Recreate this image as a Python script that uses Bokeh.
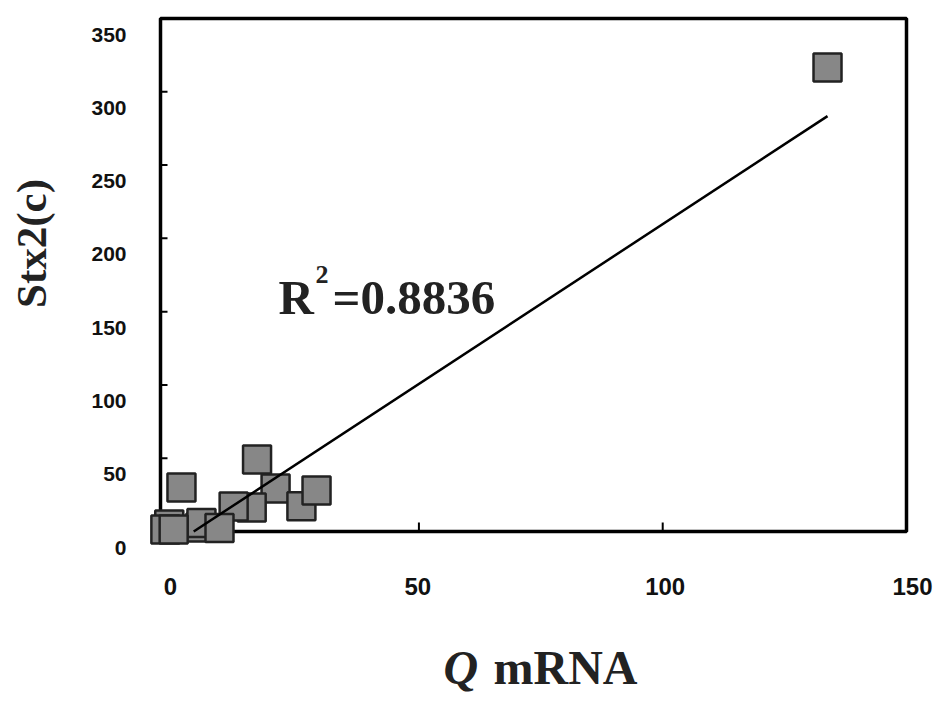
import numpy as np
from bokeh.plotting import figure
from bokeh.models import Range1d, BoxAnnotation, Label, LabelSet, ColumnDataSource
from bokeh.core.properties import value
from bokeh.embed import file_html
from bokeh.resources import INLINE

# ---------------- data ----------------
q_mrna = [133.8, 1.3, 16.8, 20.6, 25.9, 29.0, 15.7, 12.0, 5.2, 5.4, 9.1, -1.2, -2.0, -0.3]
stx2c = [316.5, 30.0, 49.1, 29.3, 17.2, 28.0, 16.4, 17.1, 2.7, 5.8, 2.4, 4.8, 1.4, 1.4]

x_ticks = [0, 50, 100, 150]
x_tick_labels = ["0", "50", "100", "150"]
y_ticks = [0, 50, 100, 150, 200, 250, 300, 350]
y_tick_labels = ["0", "50", "100", "150", "200", "250", "300", "350"]

trend_slope = 2.18
trend_intercept = -8.3
r2_text = "=0.8836"

# ---------------- layout constants ----------------
W, H = 936, 700                 # canvas; the frame covers all of it
X_AXIS = (-3, 150)              # drawn axis box (data units)
Y_AXIS = (0, 350)
BOX_LEFT, BOX_RIGHT = 160, 906  # pixel positions of the axis box
BOX_TOP, BOX_BOTTOM = 18, 531

px_x = (BOX_RIGHT - BOX_LEFT) / (X_AXIS[1] - X_AXIS[0])
px_y = (BOX_BOTTOM - BOX_TOP) / (Y_AXIS[1] - Y_AXIS[0])
x_lo = X_AXIS[0] - BOX_LEFT / px_x
x_hi = x_lo + W / px_x
y_hi = Y_AXIS[1] + BOX_TOP / px_y
y_lo = y_hi - H / px_y


def X(px):
    return x_lo + px / px_x


def Y(py):
    return y_hi - py / px_y


p = figure(width=W, height=H,
           x_range=Range1d(x_lo, x_hi), y_range=Range1d(y_lo, y_hi),
           x_axis_location=None, y_axis_location=None,
           output_backend="svg", toolbar_location=None,
           min_border=0, min_border_left=0, min_border_right=0,
           min_border_top=0, min_border_bottom=0)
p.outline_line_color = None
p.background_fill_color = "white"
p.border_fill_color = "white"
p.grid.grid_line_color = None

# axis box
box = BoxAnnotation(left=X_AXIS[0], right=X_AXIS[1], bottom=Y_AXIS[0], top=Y_AXIS[1],
                    fill_color=None, fill_alpha=0, line_color="black", line_alpha=1.0,
                    line_width=3.5, level="underlay")
p.add_layout(box)

# inner ticks
yt = [t for t in y_ticks if Y_AXIS[0] < t < Y_AXIS[1]]
r1 = p.segment(x0=[X_AXIS[0]] * len(yt), y0=yt,
               x1=[X_AXIS[0] + 7 / px_x] * len(yt), y1=yt,
               line_color="black", line_width=2)
r1.level = "underlay"
xt = [t for t in x_ticks if 0 < t < X_AXIS[1]]
r2 = p.segment(x0=xt, y0=[Y_AXIS[0]] * len(xt),
               x1=xt, y1=[Y_AXIS[0] + 9 / px_y] * len(xt),
               line_color="black", line_width=2)
r2.level = "underlay"

# markers
p.scatter(q_mrna, stx2c, marker="square", size=28,
          fill_color="#878787", line_color="#222222", line_width=2.5)

# linear trendline over the data range (clipped at the x axis)
x0 = max(min(q_mrna), -trend_intercept / trend_slope)
x1 = max(q_mrna)
p.line([x0, x1], [trend_slope * x0 + trend_intercept, trend_slope * x1 + trend_intercept],
       line_color="black", line_width=2.5)

# tick labels (printed slightly below / beside their ticks, as in the scan)
ysrc = ColumnDataSource(dict(x=[X(126)] * len(y_ticks),
                             y=[t - 16 / px_y for t in y_ticks],
                             text=y_tick_labels))
p.add_layout(LabelSet(source=ysrc, x="x", y="y", text="text",
                      text_align="right", text_baseline="middle",
                      text_font=value("Liberation Sans"), text_font_style="bold",
                      text_font_size="21px", text_color="#111111"))
xsrc = ColumnDataSource(dict(x=[X(170 + t * (912 - 170) / 150) for t in x_ticks],
                             y=[Y(586)] * len(x_ticks),
                             text=x_tick_labels))
p.add_layout(LabelSet(source=xsrc, x="x", y="y", text="text",
                      text_align="center", text_baseline="middle",
                      text_font=value("Liberation Sans"), text_font_style="bold",
                      text_font_size="24px", text_color="#111111"))

serif = "Liberation Serif"
# axis titles
p.add_layout(Label(x=X(31), y=Y(243), text="Stx2(c)", angle=np.pi / 2,
                   text_align="center", text_baseline="middle",
                   text_font=serif, text_font_style="bold", text_font_size="43px",
                   text_color="#222222"))
p.add_layout(Label(x=X(443), y=Y(667), text="Q", text_align="left", text_baseline="middle",
                   text_font=serif, text_font_style="bold italic", text_font_size="48px",
                   text_color="#222222"))
p.add_layout(Label(x=X(493), y=Y(667), text="mRNA", text_align="left", text_baseline="middle",
                   text_font=serif, text_font_style="bold", text_font_size="48px",
                   text_color="#222222"))

# R^2 annotation
p.add_layout(Label(x=X(278), y=Y(297), text="R", text_align="left", text_baseline="middle",
                   text_font=serif, text_font_style="bold", text_font_size="49px",
                   text_color="#222222"))
p.add_layout(Label(x=X(315), y=Y(274), text="2", text_align="left", text_baseline="middle",
                   text_font=serif, text_font_style="bold", text_font_size="26px",
                   text_color="#222222"))
p.add_layout(Label(x=X(332), y=Y(297), text=r2_text, text_align="left", text_baseline="middle",
                   text_font=serif, text_font_style="bold", text_font_size="49px",
                   text_color="#222222"))

open("out.html", "w").write(file_html(p, INLINE))
